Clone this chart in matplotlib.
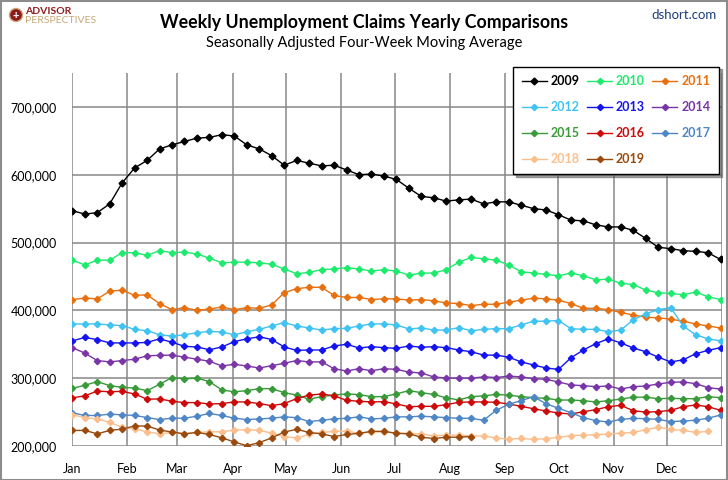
import matplotlib
matplotlib.use("Agg")
import matplotlib.pyplot as plt
from matplotlib.ticker import FuncFormatter
from matplotlib.patches import Circle, Rectangle

plt.rcParams['font.family'] = ['Lato', 'DejaVu Sans']

# weekly 4-week moving average of initial claims, in thousands, week 0 = first week of year
y2009 = [547, 542, 544, 557, 588, 610, 621, 638, 644, 649, 654, 655, 659, 657, 644, 638, 628, 614,
         621, 617, 613, 614, 607, 600, 601, 598, 593, 580, 568, 566, 561, 563, 564, 557, 560, 560,
         555, 550, 548, 541, 533, 532, 526, 523, 523, 518, 506, 493, 491, 488, 487, 485, 475]
y2010 = [474, 467, 474, 474, 485, 485, 481, 488, 485, 486, 483, 477, 470, 471, 471, 470, 468, 461,
         454, 456, 460, 461, 463, 461, 458, 460, 458, 452, 455, 455, 460, 471, 478, 476, 474, 467,
         457, 455, 453, 451, 455, 451, 445, 446, 440, 438, 430, 426, 425, 423, 427, 420, 416]
y2011 = [416, 418, 417, 428, 430, 422, 423, 410, 401, 404, 400, 402, 405, 401, 404, 403, 408, 426,
         432, 434, 434, 422, 419, 419, 416, 417, 417, 415, 416, 414, 411, 410, 407, 409, 409, 412,
         415, 418, 417, 415, 410, 403, 403, 401, 397, 393, 390, 389, 387, 384, 380, 377, 374]
y2012 = [380, 380, 380, 378.5, 377.5, 372, 370, 364, 362, 364, 367, 369, 368, 364, 368.5, 372, 377, 382,
         377, 374, 371, 373, 373.5, 377, 380, 380, 378.5, 372.6, 374, 371, 371, 374.5, 370, 372, 373, 373,
         378.5, 384, 384, 385, 373, 372, 372, 368.5, 371, 386, 395, 401, 404, 377, 364, 358, 355]
y2013 = [355, 360, 357, 352, 352, 352, 352.7, 358, 353, 347, 346, 342, 346, 354, 358, 361, 357, 346,
         341, 341.6, 341.6, 347.5, 350, 344.5, 346.5, 345, 344, 347.5, 345.6, 346.5, 345, 341.6, 339, 334, 334, 331,
         324, 319.5, 315, 313, 330, 341.6, 351, 358, 352, 344.5, 339, 331, 324, 327, 336, 341, 345]
y2014 = [345, 337, 326, 324, 326, 328, 333, 333.7, 334, 331, 328, 325, 318, 320.5, 318, 315, 318.5, 322,
         326, 324, 324, 314, 310.6, 314, 311, 314, 313, 309, 307.7, 301.8, 300.3, 300, 300, 302, 301, 303,
         302, 299.3, 298.3, 294.4, 290, 289, 287.5, 288.5, 284, 287.5, 288.5, 291.4, 294, 294.4, 292, 286, 284]
y2015 = [285, 289.5, 295, 289, 286.5, 285.5, 281.6, 291, 301, 299, 300, 295, 282.6, 280, 281.6, 284.6, 284.6, 278.7,
         275, 269, 273, 275, 277, 275.7, 272.8, 272.8, 277, 281.6, 278.7, 276, 271, 268, 272.8, 274, 276, 275,
         272.8, 271.3, 270.3, 267.8, 267.8, 266.8, 265, 266.8, 269.3, 272, 272, 269.8, 270.3, 269.8, 269.8, 272.8, 271.3]
y2016 = [271, 274, 281, 280, 280.6, 276.7, 269, 269.5, 266, 264, 264, 262, 262.5, 265, 265, 262.5, 259.5, 262.5,
         270, 275, 276.7, 274, 267.3, 266, 265, 265.4, 262, 258, 258.5, 258.5, 261, 264.4, 265, 265, 264.4, 262,
         258.5, 255, 251.6, 248.7, 247.2, 250.6, 253.6, 258, 260, 252, 250, 250.6, 252.6, 258, 260.5, 258, 252.6]
y2017 = [249, 245, 245, 247, 246, 245, 242, 239, 241, 241, 244, 248, 245, 241, 239, 240, 241, 243,
         241.8, 236, 238, 240, 240.8, 243, 240, 240.8, 243, 243, 244, 243, 241.8, 241, 240.8, 238, 252.6, 261.5,
         266.9, 272.8, 262.4, 255.6, 249.2, 241.8, 237.4, 235.4, 239.3, 240.8, 240.3, 239.3, 236, 236.9, 238, 241, 245.7]
y2018 = [246, 242, 240, 235, 227.5, 225, 221, 218, 220, 218, 220, 221, 221, 223.6, 224, 223, 219, 214,
         212, 217, 220, 221.6, 221.6, 219, 220.6, 221, 219, 218.7, 217.7, 215, 216, 216, 215, 214.7, 212, 210,
         211.3, 209.8, 210.8, 212.8, 215.2, 216, 216.7, 217.7, 219, 220, 224, 227.5, 224.6, 223, 220, 221.6]
y2019 = [223, 223, 218, 223, 225, 229.5, 229.5, 223.6, 220.6, 218, 220, 217, 212, 206, 200.5, 205, 212, 220.6,
         224.6, 220, 218, 214, 217, 218.7, 221.6, 221.6, 218.7, 218, 213, 211, 213, 213, 214]

years = ["2009", "2010", "2011", "2012", "2013", "2014", "2015", "2016", "2017", "2018", "2019"]
series = [y2009, y2010, y2011, y2012, y2013, y2014, y2015, y2016, y2017, y2018, y2019]
colors = ["#000000", "#1EEB6E", "#E8700F", "#3EC3F2", "#1414F0", "#7A35A8",
          "#389A38", "#CC0A0A", "#4F86C6", "#FBBF8E", "#9A4A0C"]

months = ["Jan", "Feb", "Mar", "Apr", "May", "Jun", "Jul", "Aug", "Sep", "Oct", "Nov", "Dec"]
month_start = [0, 31, 59, 90, 120, 151, 181, 212, 243, 273, 304, 334]

fig = plt.figure(figsize=(7.28, 4.80), dpi=100)
ax = fig.add_axes([0.0993, 0.0708, 0.8929, 0.7772])

lines = []
for name, vals, c in zip(years, series, colors):
    x = [7 * i for i in range(len(vals))]
    y = [v * 1000 for v in vals]
    ms = 3.5 if name == "2009" else 3.2
    ln, = ax.plot(x, y, color=c, lw=1.0, marker="D", ms=ms, mec=c, mfc=c, label=name)
    lines.append(ln)

ax.set_xlim(0, 365)
ax.set_ylim(200000, 750000)
ax.set_yticks(range(200000, 700001, 100000))
ax.yaxis.set_major_formatter(FuncFormatter(lambda v, p: f"{int(v):,}"))
ax.set_xticks(month_start + [365])
ax.set_xticklabels(months + [""])
ax.tick_params(length=0, labelsize=9, colors="black")
ax.tick_params(axis="y", pad=11)
ax.tick_params(axis="x", pad=12)
ax.grid(True, color="#878787", lw=1.1)
ax.set_axisbelow(True)
for s in ax.spines.values():
    s.set_visible(False)

# legend filled row by row: 2009 2010 2011 / 2012 2013 2014 / ...
order = [0, 3, 6, 9, 1, 4, 7, 10, 2, 5, 8]
leg = ax.legend([lines[k] for k in order], [years[k] for k in order], ncol=3,
                loc="upper right", bbox_to_anchor=(0.995, 1.017), borderaxespad=0,
                frameon=True, fancybox=False, shadow=True, edgecolor="black",
                framealpha=1, handlelength=2.0, handletextpad=0.3, columnspacing=0.6,
                labelspacing=1.12, borderpad=0.7, prop={"size": 9, "weight": "bold"})
leg.get_frame().set_linewidth(1.0)
for t, k in zip(leg.get_texts(), order):
    t.set_color(colors[k])

fig.text(0.5, 1 - 22.7 / 480, "Weekly Unemployment Claims Yearly Comparisons",
         ha="center", va="center", fontsize=12.8, fontweight="bold")
fig.text(0.5, 1 - 43.5 / 480, "Seasonally Adjusted Four-Week Moving Average",
         ha="center", va="center", fontsize=10.5)
fig.text(717 / 728, 1 - 15 / 480, "dshort.com", ha="right", va="center",
         fontsize=9.5, color="#1F3F7A")

# logo
fig.patches.append(Circle((0.16, 4.65), 0.065, transform=fig.dpi_scale_trans,
                          facecolor="#8E1B1B", edgecolor="#C9A878", lw=1))
fig.text(0.16 / 7.28, 1 - 15 / 480, "+", ha="center", va="center", fontsize=8,
         color="white", fontweight="bold")
fig.text(25 / 728, 1 - 12 / 480, "ADVISOR", ha="left", va="center", fontsize=7.5,
         fontweight="bold", color="#8E1B1B")
fig.text(25 / 728, 1 - 20.5 / 480, "PERSPECTIVES", ha="left", va="center", fontsize=7.5,
         color="#C6A877")

fig.patches.append(Rectangle((0.001, 0.001), 0.998, 0.997, transform=fig.transFigure,
                             fill=False, edgecolor="#8C8C8C", lw=1.5))

fig.savefig("out.png", dpi=100)
